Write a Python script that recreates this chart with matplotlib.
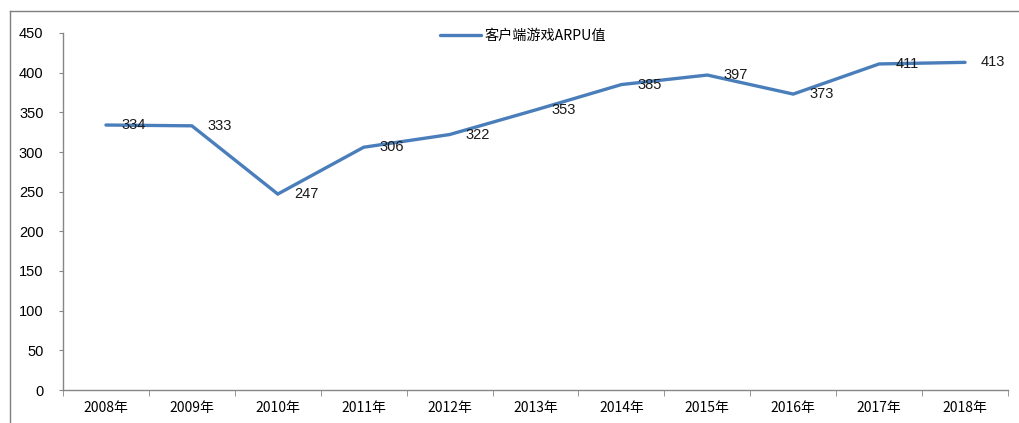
import matplotlib
matplotlib.use("Agg")
import matplotlib.pyplot as plt
from matplotlib.lines import Line2D
import numpy as np

plt.rcParams["font.family"] = ["Liberation Sans", "Noto Sans CJK SC", "DejaVu Sans"]

YEARS = ["2008年", "2009年", "2010年", "2011年", "2012年", "2013年",
         "2014年", "2015年", "2016年", "2017年", "2018年"]
ARPU = [334, 333, 247, 306, 322, 353, 385, 397, 373, 411, 413]
SERIES_NAME = "客户端游戏ARPU值"
Y_TICKS = [0, 50, 100, 150, 200, 250, 300, 350, 400, 450]

LINE_COLOR = "#4a7ebb"
AXIS_COLOR = "#868686"

fig = plt.figure(figsize=(10.19, 4.23), dpi=100)
ax = fig.add_axes([63 / 1019, 1 - 390 / 423, (1008 - 63) / 1019, (390 - 33) / 423])

x = np.arange(len(YEARS))
ax.plot(x, ARPU, color=LINE_COLOR, linewidth=2.4, solid_capstyle="round",
        solid_joinstyle="miter", label=SERIES_NAME, zorder=3)

for xi, v in zip(x, ARPU):
    ax.annotate(str(v), (xi, v), xytext=(16, 0), textcoords="offset pixels",
                ha="left", va="center", fontsize=10.5, color="#1a1a1a", zorder=4)

ax.set_xlim(-0.5, len(YEARS) - 0.5)
ax.set_ylim(0, 450)
ax.set_yticks(Y_TICKS)
ax.set_yticklabels([str(t) for t in Y_TICKS], fontsize=10.5)

ax.set_xticks(x)
ax.set_xticklabels(YEARS, fontsize=10, family=["Noto Sans CJK SC", "DejaVu Sans"])
ax.set_xticks(np.arange(-0.5, len(YEARS), 1.0), minor=True)
ax.tick_params(axis="x", which="major", length=0, pad=8)
ax.tick_params(axis="x", which="minor", length=4, color=AXIS_COLOR, direction="out")
ax.tick_params(axis="y", length=3, color=AXIS_COLOR, direction="out", pad=11)

for spine in ("top", "right"):
    ax.spines[spine].set_visible(False)
for spine in ("left", "bottom"):
    ax.spines[spine].set_color(AXIS_COLOR)
    ax.spines[spine].set_linewidth(1.0)

fig.legend(handles=[Line2D([0], [0], color=LINE_COLOR, linewidth=2.4, solid_capstyle="round")],
           labels=[SERIES_NAME], loc="center", bbox_to_anchor=(523 / 1019, 1 - 36 / 423),
           frameon=False, handlelength=2.9, handletextpad=0.25,
           prop={"family": ["Noto Sans CJK SC", "DejaVu Sans"], "size": 10.2, "weight": "medium"})

# outer frame, only its left and top edges fall inside the picture
fig.add_artist(Line2D([10 / 1019, 10 / 1019], [0, 1 - 11 / 423], transform=fig.transFigure,
                      color="#7f7f7f", linewidth=1.0))
fig.add_artist(Line2D([10 / 1019, 1], [1 - 11 / 423, 1 - 11 / 423], transform=fig.transFigure,
                      color="#7f7f7f", linewidth=1.0))

fig.savefig("out.png", dpi=100)
